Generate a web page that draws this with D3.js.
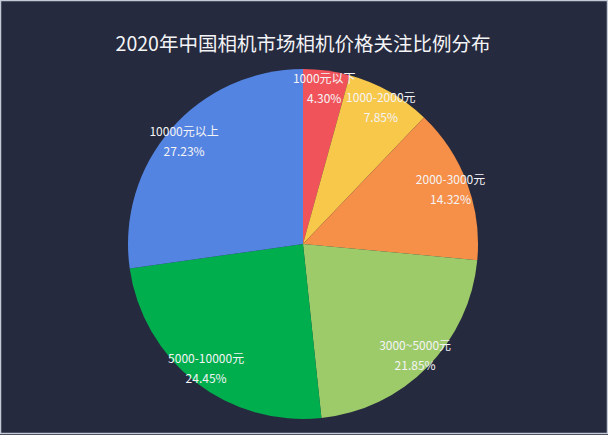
<!DOCTYPE html>
<html>
<head>
<meta charset="utf-8">
<script src="https://cdn.jsdelivr.net/npm/d3@7"></script>
<style>
  html, body { margin: 0; padding: 0; background: #252a3e; }
  svg { display: block; }
</style>
</head>
<body>
<div id="chart"></div>
<script>
(function PriceShare() {
  /* global d3 */
  // price bands and their share (%)
  var categories = ["1000元以下", "1000-2000元", "2000-3000元", "3000~5000元", "5000-10000元", "10000元以上"];
  var shares = [4.30, 7.85, 14.32, 21.85, 24.45, 27.23];
  var colors = ["#f0545a", "#f8c84b", "#f68f47", "#9ecb6a", "#00ae4d", "#5484e1"];
  var title = "2020年中国相机市场相机价格关注比例分布";

  var width = 608, height = 435;
  var cx = 303, cy = 244, radius = 175;

  var svg = d3.select("#chart").append("svg")
    .attr("width", width)
    .attr("height", height);

  // frame
  svg.append("rect")
    .attr("x", 0.5).attr("y", 0.5)
    .attr("width", width - 1).attr("height", height - 2)
    .style("fill", "#252a3e")
    .style("stroke", "#c5c9d6")
    .style("stroke-width", 1.5);

  svg.append("text")
    .attr("x", cx)
    .attr("y", 51)
    .attr("text-anchor", "middle")
    .style("font-family", "'Noto Sans CJK SC', 'Noto Sans', sans-serif")
    .style("font-size", "19.5px")
    .style("fill", "#f4f4f6")
    .text(title);

  var data = categories.map(function (c, i) {
    return { name: c, value: shares[i], color: colors[i] };
  });

  var pie = d3.pie()
    .sort(null)
    .value(function (d) { return d.value; });

  var arc = d3.arc().innerRadius(0).outerRadius(radius);
  var labelArc = d3.arc().innerRadius(radius * 0.9).outerRadius(radius * 0.9);

  var g = svg.append("g")
    .attr("transform", "translate(" + cx + "," + cy + ")");

  var arcs = pie(data);

  g.selectAll(".slice")
    .data(arcs)
    .enter().append("path")
    .attr("class", "slice")
    .attr("d", arc)
    .style("fill", function (d) { return d.data.color; })
    .style("stroke", "none");

  var labels = g.selectAll(".lbl")
    .data(arcs)
    .enter().append("text")
    .attr("class", "lbl")
    .attr("transform", function (d) {
      return "translate(" + labelArc.centroid(d) + ")";
    })
    .attr("text-anchor", "middle")
    .style("font-family", "'Noto Sans CJK SC', 'Noto Sans', sans-serif")
    .style("font-size", "12px")
    .style("fill", "#f4f4f6");

  labels.append("tspan")
    .attr("x", 0)
    .attr("dy", "-0.4em")
    .text(function (d) { return d.data.name; });

  labels.append("tspan")
    .attr("x", 0)
    .attr("dy", "1.65em")
    .text(function (d) { return d.data.value.toFixed(2) + "%"; });
})();
</script>
</body>
</html>
